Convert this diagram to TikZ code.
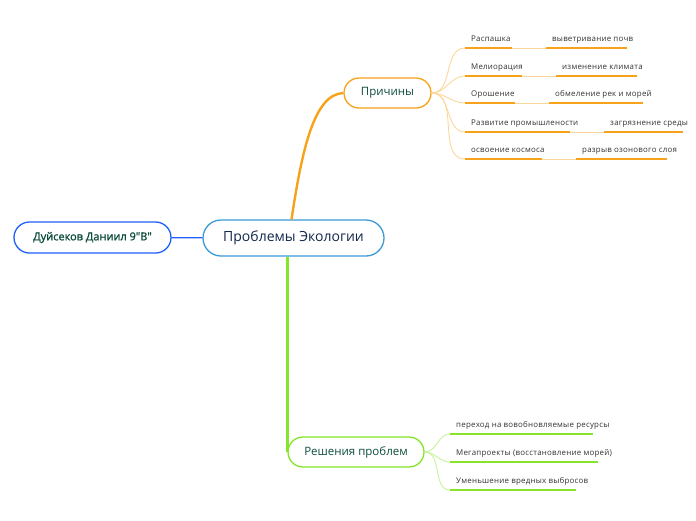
\documentclass[tikz,border=0pt]{standalone}
\usepackage{fontspec}
\setmainfont{Open Sans}
\newfontfamily\semibold{Open Sans}[FakeBold=1.2]
\newfontfamily\leaffont{Open Sans}[LetterSpace=3]
\usetikzlibrary{positioning, calc}

\definecolor{rootblue}{HTML}{3C9AD6}
\definecolor{authblue}{HTML}{1F5EFF}
\definecolor{causeor}{HTML}{F7A21B}
\definecolor{causelt}{HTML}{FCD79A}
\definecolor{solgreen}{HTML}{84E52A}
\definecolor{sollt}{HTML}{C6F39A}
\definecolor{navytext}{HTML}{14284B}
\definecolor{greentext}{HTML}{0E4D3C}
\definecolor{leaftext}{HTML}{333333}

\begin{document}
\begin{tikzpicture}[
        x=1pt, y=-1pt,
        topic/.style={draw, fill=white, line width=1.3pt, inner sep=0pt, text=greentext},
        leaf/.style={font=\leaffont\fontsize{7.9}{9}\selectfont, text=leaftext, inner sep=0pt, anchor=base west},
        uline/.style={line width=2.6pt},
        thinlink/.style={line width=0.9pt},
    ]
    \useasboundingbox (0,0) rectangle (696,520);

        % Draw the main topics
        \node[topic, draw=rootblue, text=navytext, minimum width=181pt, minimum height=36pt,
              rounded corners=18pt, font=\fontsize{14}{16}\selectfont] (root) at (293.5,238) {Проблемы Экологии};
        \node[topic, draw=authblue, minimum width=157pt, minimum height=31pt,
              rounded corners=15.5pt, font=\fontsize{11}{13}\selectfont\semibold] (author) at (92.5,237.5) {Дуйсеков Даниил 9\textquotedbl В\textquotedbl};
        \node[topic, draw=causeor, minimum width=87pt, minimum height=30pt,
              rounded corners=15pt, font=\fontsize{11.5}{13}\selectfont] (causes) at (387.5,93) {Причины};
        \node[topic, draw=solgreen, minimum width=136pt, minimum height=30pt,
              rounded corners=15pt, font=\fontsize{11.5}{13}\selectfont] (solutions) at (356,452) {Решения проблем};

        % Connect the main topics
        \draw[authblue, line width=1.2pt] (author) -- (root);
        \draw[causeor, line width=2.4pt] ([xshift=-2pt]root.north) .. controls (302,150) and (314,94) .. (causes.west);
        \draw[solgreen, line width=2.4pt] (root.south -| solutions.west) -- (solutions.west);

        % Causes and their effects
        \foreach \i / \y / \xa / \ta / \xb / \xc / \tb in {
                1/48/512/Распашка/546/627/выветривание почв,
                2/76/522/Мелиорация/556/637/изменение климата,
                3/103/515/Орошение/549/643/обмеление рек и морей,
                4/132/570/Развитие промышлености/604/683/загрязнение среды,
                5/159/542/освоение космоса/576/667/разрыв озонового слоя} {
            \coordinate (C\i-a) at (465,\y);
            \coordinate (C\i-b) at (\xa,\y);
            \coordinate (C\i-c) at (\xb,\y);
            \coordinate (C\i-d) at (\xc,\y);
            \draw[causelt, thinlink] (causes.east) to[out=0, in=180] (C\i-a);
            \draw[causelt, thinlink] (C\i-b) -- (C\i-c);
            \draw[causeor, uline] (C\i-a) -- (C\i-b);
            \draw[causeor, uline] (C\i-c) -- (C\i-d);
            \node[leaf] (C\i-cause) at (471,\y-7) {\ta};
            \node[leaf] (C\i-effect) at (\xb+6,\y-7) {\tb};
        }

        % Solutions
        \foreach \i / \y / \xa / \ta in {
                1/434/593/переход на вовобновляемые ресурсы,
                2/462/598/Мегапроекты (восстановление морей),
                3/490/576/Уменьшение вредных выбросов} {
            \coordinate (S\i-a) at (450,\y);
            \coordinate (S\i-b) at (\xa,\y);
            \draw[sollt, thinlink] (solutions.east) to[out=0, in=180] (S\i-a);
            \draw[solgreen, uline] (S\i-a) -- (S\i-b);
            \node[leaf] (S\i-text) at (456,\y-7) {\ta};
        }
    \end{tikzpicture}
\end{document}
